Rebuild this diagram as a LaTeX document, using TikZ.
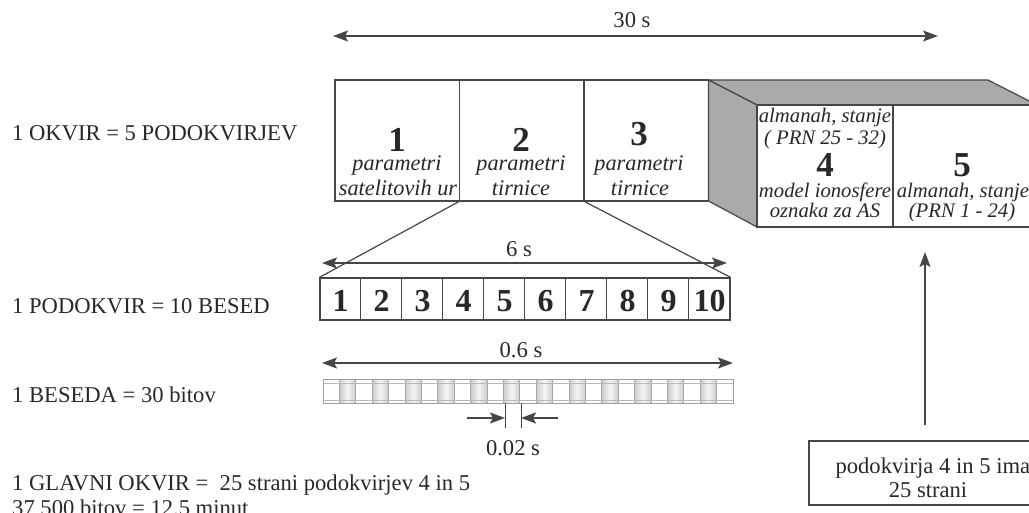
\documentclass[tikz,border=0pt]{standalone}
\usepackage{fontspec}
\setmainfont{Liberation Serif}
\usetikzlibrary{arrows.meta,calc}
\definecolor{ink}{RGB}{40,40,40}
\definecolor{ln}{RGB}{70,70,70}
\definecolor{side}{RGB}{170,170,170}
\begin{document}
\begin{tikzpicture}[x=1pt,y=-1pt,
  txt/.style={font=\fontsize{22.6}{24}\selectfont, text=ink, inner sep=0pt},
  itx/.style={font=\fontsize{22.3}{24}\selectfont\itshape, text=ink, inner sep=0pt},
  its/.style={font=\fontsize{20.7}{22}\selectfont\itshape, text=ink, inner sep=0pt},
  big/.style={font=\fontsize{35}{35}\selectfont\bfseries, text=ink, inner sep=0pt},
  dig/.style={font=\fontsize{32}{32}\selectfont\bfseries, text=ink, inner sep=0pt},
  boxn/.style={draw=ln, line width=1.2pt, inner sep=0pt, fill=white},
  hd/.style={Stealth[length=15pt,width=11pt,inset=3pt]},
  darr/.style={draw=ln, line width=1.6pt, {Stealth[length=15pt,width=11pt,inset=3pt]}-{Stealth[length=15pt,width=11pt,inset=3pt]}},
  sarr/.style={draw=ln, line width=1.6pt, -{Stealth[length=15pt,width=11pt,inset=3pt]}},
  ]
\useasboundingbox (0,0) rectangle (1029,513);
\clip (0,0) rectangle (1029,513);

% left labels
\node[txt, anchor=base west] (l1) at (12,141) {1 OKVIR = 5 PODOKVIRJEV};
\node[txt, anchor=base west] (l2) at (12,313) {1 PODOKVIR = 10 BESED};
\node[txt, anchor=base west] (l3) at (12,402) {1 BESEDA = 30 bitov};
\node[txt, anchor=base west] (l4) at (12,490) {1 GLAVNI OKVIR = \ 25 strani podokvirjev 4 in 5};
\node[txt, anchor=base west] (l5) at (12,515) {37 500 bitov = 12.5 minut};

% 30 s arrow
\coordinate (t30a) at (333,36);
\coordinate (t30b) at (938,36);
\draw[darr] (t30a) -- (t30b);
\node[txt, anchor=base] (t30) at (632,28) {30 s};

% subframes 1-3
\node[boxn, minimum width=124.5pt, minimum height=121pt] (b1) at (397.25,140.5) {};
\node[boxn, minimum width=124.5pt, minimum height=121pt] (b2) at (521.75,140.5) {};
\node[boxn, minimum width=124.5pt, minimum height=121pt] (b3) at (646.25,140.5) {};

\node[big, anchor=base] (n1) at (397,152) {1};
\node[itx, anchor=base] (p1a) at (397,171) {parametri};
\node[itx, anchor=base] (p1b) at (398,196) {satelitovih ur};
\node[big, anchor=base] (n2) at (521,152) {2};
\node[itx, anchor=base] (p2a) at (521,171) {parametri};
\node[itx, anchor=base] (p2b) at (521,196) {tirnice};
\node[big, anchor=base] (n3) at (639,146) {3};
\node[itx, anchor=base] (p3a) at (639,171) {parametri};
\node[itx, anchor=base] (p3b) at (640,196) {tirnice};

% 3D block for subframes 4-5
\coordinate (k1) at (708.5,80);
\coordinate (k2) at (988,80);
\coordinate (k3) at (1037,105);
\coordinate (k4) at (757,105);
\coordinate (k5) at (757,227);
\coordinate (k6) at (708.5,201);
\filldraw[fill=side, draw=ln, line width=1.2pt] (k1) -- (k2) -- (k3) -- (k4) -- cycle;
\filldraw[fill=side, draw=ln, line width=1.2pt] (k1) -- (k4) -- (k5) -- (k6) -- cycle;
\node[boxn, minimum width=136pt, minimum height=122pt] (b4) at (825,166) {};
\node[boxn, minimum width=144pt, minimum height=122pt] (b5) at (965,166) {};

\node[its, anchor=base] (a4a) at (825,123) {almanah, stanje};
\node[its, anchor=base] (a4b) at (825,145) {( PRN 25 - 32)};
\node[big, anchor=base] (n4) at (825,177) {4};
\node[its, anchor=base] (a4c) at (825,198) {model ionosfere};
\node[its, anchor=base] (a4d) at (825,218) {oznaka za AS};
\node[big, anchor=base] (n5) at (962,177) {5};
\node[its, anchor=base] (a5a) at (963,198) {almanah, stanje};
\node[its, anchor=base] (a5b) at (962,218) {(PRN 1 - 24)};

% words
\node[draw=ln, line width=1.2pt, minimum width=410pt, minimum height=42pt, inner sep=0pt] (w) at (525,299) {};
\foreach \i in {1,...,10} {
  \pgfmathsetmacro{\cx}{320+41*(\i-0.5)}
  \node[dig, anchor=base] (d\i) at (\cx,312) {\i};
}
\foreach \i in {1,...,9} {
  \draw[ln, line width=1.2pt] ($(w.north west)+(41*\i,0)$) -- ($(w.south west)+(41*\i,0)$);
}

% projection lines
\draw[ln, line width=1.2pt] (b2.south west) -- (w.north west);
\draw[ln, line width=1.2pt] (b2.south east) -- (w.north east);

% 6 s arrow
\coordinate (s6a) at (322,263);
\coordinate (s6b) at (727,263);
\draw[darr] (s6a) -- (s6b);
\node[txt, anchor=base] (t6) at (519,257) {6 s};

% 0.6 s arrow
\coordinate (s06a) at (322,363);
\coordinate (s06b) at (733,363);
\draw[darr] (s06a) -- (s06b);
\node[txt, anchor=base] (t06) at (521,357) {0.6 s};

% bit bar
\foreach \i in {1,3,...,23} {
  \pgfmathsetmacro{\bx}{323+16.4*\i}
  \shade[left color=gray!40, right color=gray!40, middle color=gray!8] (\bx,380) rectangle (\bx+16.4,403);
}
\foreach \i in {1,...,24} {
  \pgfmathsetmacro{\bx}{323+16.4*\i}
  \draw[gray!70, line width=0.8pt] (\bx,380) -- (\bx,403);
}
\draw[gray!55, line width=0.8pt] (323,383) -- (733,383);
\draw[gray!55, line width=0.8pt] (323,400) -- (733,400);
\node[draw=gray!75, line width=1pt, minimum width=410pt, minimum height=24pt, inner sep=0pt] (bar) at (528,391.5) {};

% 0.02 s marker
\coordinate (m1) at (505,403);
\coordinate (m1b) at (505,428);
\coordinate (m2) at (521,403);
\coordinate (m2b) at (521,428);
\draw[ln, line width=0.7pt] (m1) -- (m1b);
\draw[ln, line width=0.7pt] (m2) -- (m2b);
\coordinate (q1) at (467,418);
\coordinate (q1e) at (505,418);
\coordinate (q2) at (558,418);
\coordinate (q2e) at (521,418);
\draw[sarr] (q1) -- (q1e);
\draw[sarr] (q2) -- (q2e);
\node[txt, anchor=base] (t002) at (513,455) {0.02 s};

% note box
\node[draw=ln, line width=1.2pt, minimum width=238pt, minimum height=64pt, inner sep=0pt] (nb) at (928,473) {};
\node[txt, anchor=base] (nb1) at (941,473) {podokvirja 4 in 5 imata};
\node[txt, anchor=base] (nb2) at (928,497) {25 strani};
\coordinate (va) at (925,425);
\coordinate (vb) at (925,252);
\draw[sarr] (va) -- (vb);
\end{tikzpicture}
\end{document}
